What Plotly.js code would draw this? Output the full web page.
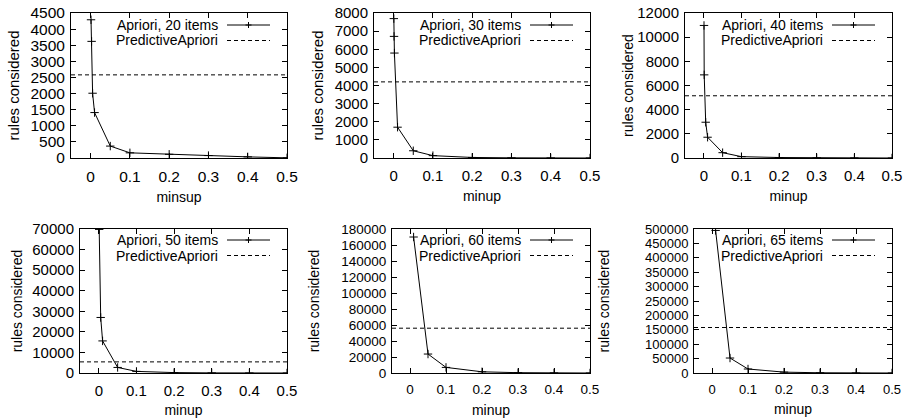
<!DOCTYPE html>
<html><head><meta charset="utf-8">
<script src="https://cdn.plot.ly/plotly-3.0.1.min.js"></script>
<style>html,body{margin:0;padding:0;background:#fff;} #chart{width:907px;height:418px;}</style>
</head><body><div id="chart"></div>
<script>
// ---- data ----
const itemCounts = [20, 30, 40, 50, 60, 65];
const xTitles = ["minsup", "minup", "minup", "minup", "minup", "minup"];
const predictiveApriori = [2580, 4200, 5150, 5400, 56000, 158000];

const minsup20 = [0.001, 0.0025, 0.005, 0.01, 0.05, 0.1, 0.2, 0.3, 0.4, 0.5];
const rules20  = [4290, 3620, 2010, 1410, 370, 160, 115, 75, 35, 5];
const minup30  = [0.0005, 0.001, 0.002, 0.01, 0.05, 0.1, 0.2, 0.3, 0.4, 0.5];
const rules30  = [7690, 6710, 5790, 1700, 400, 130, 30, 10, 5, 0];
const minup40  = [0.0005, 0.001, 0.005, 0.01, 0.05, 0.1, 0.2, 0.3, 0.4, 0.5];
const rules40  = [10970, 6880, 2960, 1720, 440, 110, 40, 15, 5, 0];
const minup50  = [0.001, 0.005, 0.01, 0.05, 0.1, 0.2, 0.3, 0.4, 0.5];
const rules50  = [69800, 27000, 15600, 2700, 780, 200, 60, 20, 0];
const minup60  = [0.01, 0.05, 0.1, 0.2, 0.3, 0.4, 0.5];
const rules60  = [170000, 23700, 7000, 1500, 400, 100, 0];
const minup65  = [0.01, 0.05, 0.1, 0.2, 0.3, 0.4, 0.5];
const rules65  = [495000, 52000, 13900, 3000, 800, 200, 0];

const xRange = [-0.05, 0.5];
const yMax   = [4500, 8000, 12000, 70000, 180000, 500000];
const yStep  = [500, 1000, 2000, 10000, 20000, 50000];

const seriesX = [minsup20, minup30, minup40, minup50, minup60, minup65];
const seriesY = [rules20, rules30, rules40, rules50, rules60, rules65];

// ---- layout (pixel boxes of each panel: left, right, top, bottom) ----
const W = 907, H = 418;
const boxes = [
  [71, 287, 13, 158], [374, 590, 13, 158], [685, 892, 13, 158],
  [80, 287, 229, 373], [392, 590, 229, 373], [694, 892, 229, 373]
];
const tickSize   = [15.5, 15, 15, 15, 13.5, 13];
const yTitleSize = [15, 15, 14, 14, 14, 14];
const yStandoff  = [7, 7, 0, 6, 18, 32];
const FONT = "Liberation Sans, Arial, sans-serif";
const px = v => v / W, py = v => 1 - v / H;

const traces = [], shapes = [], annotations = [];
const layout = {
  width: W, height: H, margin: {l: 0, r: 0, t: 0, b: 0},
  paper_bgcolor: "#fff", plot_bgcolor: "#fff", showlegend: false,
  font: {family: FONT, size: 14, color: "#000"}
};

for (let i = 0; i < 6; i++) {
  const n = i === 0 ? "" : String(i + 1);
  const [l, r, t, b] = boxes[i];
  const common = {
    showline: true, mirror: "ticks", linecolor: "#000", linewidth: 1,
    ticks: "inside", ticklen: 5, tickcolor: "#000", tickwidth: 1,
    showgrid: false, zeroline: false, fixedrange: true,
    tickfont: {family: FONT, size: tickSize[i], color: "#000"}
  };
  layout["xaxis" + n] = Object.assign({}, common, {
    domain: [px(l), px(r)], anchor: "y" + n, range: xRange,
    tick0: 0, dtick: 0.1, ticklabelstandoff: 4,
    title: {text: xTitles[i], font: {family: FONT, size: 14, color: "#000"}, standoff: 8}
  });
  layout["yaxis" + n] = Object.assign({}, common, {
    domain: [py(b), py(t)], anchor: "x" + n, range: [0, yMax[i]],
    tick0: 0, dtick: yStep[i], ticklabelstandoff: 2, tickformat: "d",
    title: {text: "rules considered", font: {family: FONT, size: yTitleSize[i], color: "#000"}, standoff: yStandoff[i]}
  });

  traces.push({
    type: "scatter", mode: "lines+markers", xaxis: "x" + n, yaxis: "y" + n,
    x: seriesX[i], y: seriesY[i], cliponaxis: true,
    line: {color: "#000", width: 1},
    marker: {symbol: "cross-thin-open", size: 6, color: "#000", line: {color: "#000", width: 1}},
    name: "Apriori, " + itemCounts[i] + " items"
  });
  traces.push({
    type: "scatter", mode: "lines", xaxis: "x" + n, yaxis: "y" + n,
    x: xRange, y: [predictiveApriori[i], predictiveApriori[i]],
    line: {color: "#000", width: 1, dash: "4px,3px"}, name: "PredictiveApriori"
  });

  // gnuplot-style key (text left, sample right)
  const row1 = t + (i < 3 ? 12 : 11), row2 = t + (i < 3 ? 27.5 : 26.5);
  annotations.push({xref: "paper", yref: "paper", x: px(r - 67), y: py(row1),
    xanchor: "right", yanchor: "middle", showarrow: false,
    text: "Apriori, " + itemCounts[i] + " items", font: {family: FONT, size: 14, color: "#000"}});
  annotations.push({xref: "paper", yref: "paper", x: px(r - 67), y: py(row2),
    xanchor: "right", yanchor: "middle", showarrow: false,
    text: "PredictiveApriori", font: {family: FONT, size: 14, color: "#000"}});
  shapes.push({type: "line", xref: "paper", yref: "paper", x0: px(r - 60), x1: px(r - 17),
    y0: py(row1), y1: py(row1), line: {color: "#000", width: 1}});
  const cx = r - 38.5;
  shapes.push({type: "line", xref: "paper", yref: "paper", x0: px(cx - 3), x1: px(cx + 3),
    y0: py(row1), y1: py(row1), line: {color: "#000", width: 1}});
  shapes.push({type: "line", xref: "paper", yref: "paper", x0: px(cx), x1: px(cx),
    y0: py(row1 - 3), y1: py(row1 + 3), line: {color: "#000", width: 1}});
  shapes.push({type: "line", xref: "paper", yref: "paper", x0: px(r - 60), x1: px(r - 17),
    y0: py(row2), y1: py(row2), line: {color: "#000", width: 1, dash: "4px,3px"}});
}
layout.shapes = shapes;
layout.annotations = annotations;

Plotly.newPlot("chart", traces, layout, {staticPlot: true, displayModeBar: false});
</script>
</body></html>
